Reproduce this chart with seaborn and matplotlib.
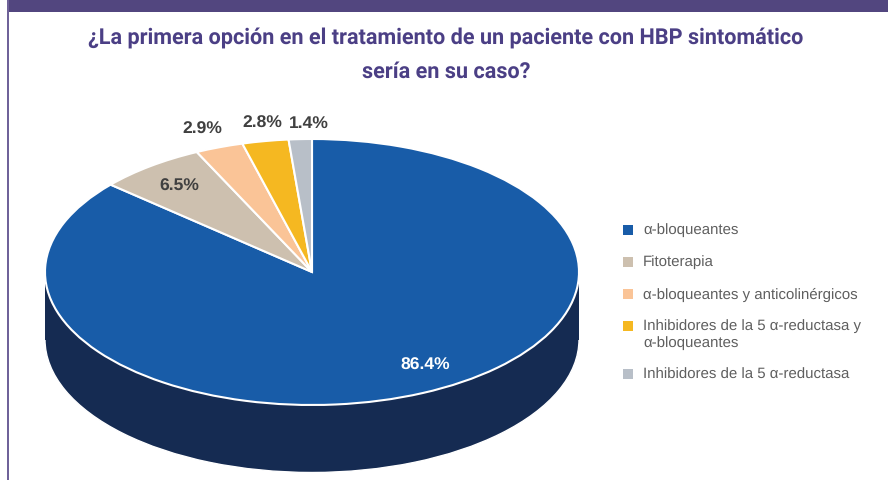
from math import radians, cos, sin

import seaborn as sns
import matplotlib.pyplot as plt
from matplotlib.patches import Rectangle

# Values from the chart
categories = ['α-bloqueantes', 'Fitoterapia', 'α-bloqueantes y anticolinérgicos',
              'Inhibidores de la 5 α-reductasa y\nα-bloqueantes', 'Inhibidores de la 5 α-reductasa']
values = [86.4, 6.5, 2.9, 2.8, 1.4]
slice_colors = ['#185CA8', '#CDC0AF', '#FAC497', '#F5B821', '#B8BFC8']
side_color = '#152B52'
title_text = '¿La primera opción en el tratamiento de un paciente con HBP sintomático\nsería en su caso?'

# label offsets from the slice rim, in pixels
label_offsets = [(3, 29), (29, -19), (-17, 19), (-3, 19), (9, 17)]
label_colors = ['white', '#404040', '#404040', '#404040', '#404040']

W, H = 888, 481
CX, CY, RX, RY, DEPTH = 312, 273, 267, 133, 67.5

sns.set_theme(style='white')
plt.rcParams['font.family'] = ['Liberation Sans', 'DejaVu Sans']
plt.rcParams['text.hinting'] = 'no_hinting'

fig = plt.figure(figsize=(W / 100, H / 100), dpi=100)
ax = fig.add_axes([0, 0, 1, 1])

# side of the cylinder first, then the top
depth = DEPTH / RY
ax.pie([100], colors=[side_color], center=(0, -depth), radius=1, startangle=90)
ax.fill_between([-0.999, 0.999], -depth, 0, color=side_color, lw=0)
wedges, _ = ax.pie(values, colors=sns.color_palette(slice_colors), startangle=90, counterclock=False,
                   radius=1, wedgeprops={'edgecolor': 'white', 'linewidth': 1.5})

# pie() forces equal aspect, the tilt comes from unequal axis scales
ax.set_aspect('auto')
ax.set_xlim(-CX / RX, (W - CX) / RX)
ax.set_ylim((CY - H) / RY, CY / RY)
ax.axis('off')

for w, v, off, c in zip(wedges, values, label_offsets, label_colors):
    a = radians((w.theta1 + w.theta2) / 2)
    ax.annotate(f'{v}%', (cos(a), sin(a)), xytext=off, textcoords='offset pixels',
                ha='center', va='center', fontsize=12.6, fontweight='bold', color=c)

# legend by hand, the squares sit on the first line of each entry
y = 230.5
for name, c in zip(categories, slice_colors):
    fig.add_artist(Rectangle((623 / W, 1 - (y + 5) / H), 10 / W, 10 / H, transform=fig.transFigure, color=c, lw=0))
    fig.text(643 / W, 1 - (y - 7) / H, name, ha='left', va='top', fontsize=10.8, color='#5F5F5F', linespacing=1.27)
    y += 32 + 16 * name.count('\n')

# frame of the page
fig.add_artist(Rectangle((7 / W, 1 - 13 / H), 1, 13 / H, transform=fig.transFigure, color='#52467F', lw=0))
fig.add_artist(Rectangle((7 / W, 0), 2 / W, 1, transform=fig.transFigure, color='#6F6299', lw=0))

fig.text(446 / W, 1 - 55 / H, title_text, ha='center', va='center', family='Roboto', fontsize=15.6,
         fontweight='bold', color='#4B3F85', linespacing=1.8)

fig.savefig('out.png', dpi=100)
